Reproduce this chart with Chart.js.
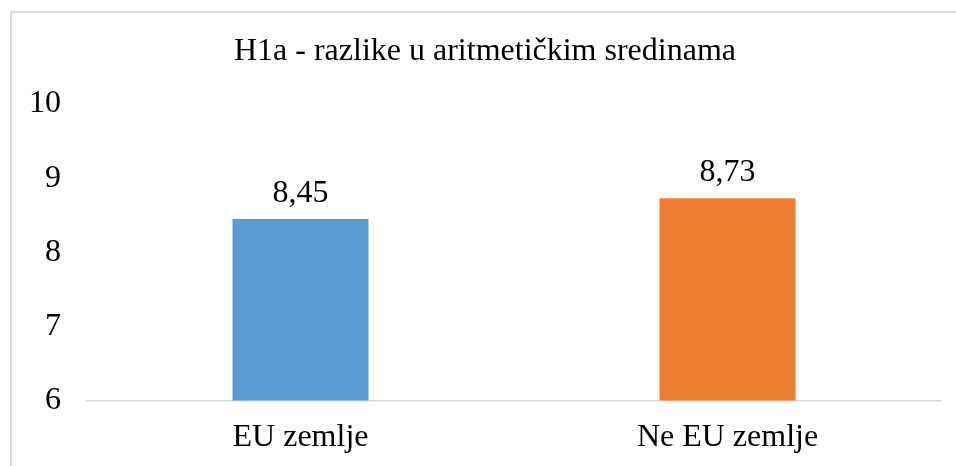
<!DOCTYPE html>
<html>
<head>
<meta charset="utf-8">
<title>H1a - razlike u aritmetičkim sredinama</title>
<script src="https://cdn.jsdelivr.net/npm/chart.js@4/dist/chart.umd.min.js"></script>
<style>
    html, body {
        margin: 0;
        padding: 0;
        background: #fff;
        overflow: hidden;
        width: 956px;
        height: 466px;
    }
    #frame {
        position: absolute;
        left: 10px;
        top: 11px;
        width: 1000px;
        height: 500px;
        border: 2px solid #d9d9d9;
    }
    #meansChart {
        position: absolute;
        left: 11px;
        top: 12px;
    }
</style>
</head>
<body>
<div id="frame"></div>
<canvas id="meansChart" width="962" height="454"></canvas>
<script>
const palette = {
    blue: "#5b9bd5",
    orange: "#ed7d31",
    text: "#000000",
    axis: "#d9d9d9"
};

const fontFamily = "'Liberation Serif', 'Times New Roman', serif";

const chartTitle = "H1a - razlike u aritmetičkim sredinama";
const groups = ["EU zemlje", "Ne EU zemlje"];
const means = [8.45, 8.73];
const barColors = [palette.blue, palette.orange];
const yMin = 6;
const yMax = 10;
const yStep = 1;

// values above the bars, decimal comma like the original
const valueLabels = {
    id: "valueLabels",
    afterDatasetsDraw(chart) {
        const ctx = chart.ctx;
        const meta = chart.getDatasetMeta(0);
        ctx.save();
        ctx.font = "32px " + fontFamily;
        ctx.fillStyle = palette.text;
        ctx.textAlign = "center";
        ctx.textBaseline = "alphabetic";
        meta.data.forEach((bar, i) => {
            const text = means[i].toFixed(2).replace(".", ",");
            ctx.fillText(text, bar.x, bar.y - 17);
        });
        ctx.restore();
    }
};

// chart.js reserves the tick padding twice, only keep it once
function trimPadding(scale) {
    if (scale.isHorizontal()) {
        scale.height -= scale.options.ticks.padding;
    } else {
        scale.width -= scale.options.ticks.padding;
    }
}

function buildChart() {
    const ref = document.getElementById("meansChart");
    if (!ref || !window.Chart) {
        return;
    }

    new Chart(ref, {
        type: "bar",
        data: {
            labels: groups,
            datasets: [
                {
                    label: chartTitle,
                    data: means,
                    backgroundColor: barColors,
                    borderWidth: 0,
                    categoryPercentage: 1,
                    barPercentage: 0.3185
                }
            ]
        },
        options: {
            responsive: false,
            animation: false,
            devicePixelRatio: 1,
            layout: {
                padding: { left: 18, right: 32, top: 0, bottom: 9 }
            },
            plugins: {
                legend: { display: false },
                tooltip: { enabled: false },
                title: {
                    display: true,
                    text: chartTitle,
                    color: palette.text,
                    font: { family: fontFamily, size: 32, weight: "normal" },
                    padding: { top: 20, bottom: 33.6 }
                }
            },
            scales: {
                x: {
                    afterFit: trimPadding,
                    grid: { display: false, drawTicks: false },
                    border: { display: true, color: palette.axis, width: 1.5 },
                    ticks: {
                        color: palette.text,
                        padding: 18,
                        font: { family: fontFamily, size: 32 }
                    }
                },
                y: {
                    min: yMin,
                    max: yMax,
                    afterFit: trimPadding,
                    grid: { display: false, drawTicks: false },
                    border: { display: false },
                    ticks: {
                        stepSize: yStep,
                        color: palette.text,
                        padding: 26,
                        font: { family: fontFamily, size: 32 }
                    }
                }
            }
        },
        plugins: [valueLabels]
    });
}

document.addEventListener("DOMContentLoaded", buildChart);
</script>
</body>
</html>
